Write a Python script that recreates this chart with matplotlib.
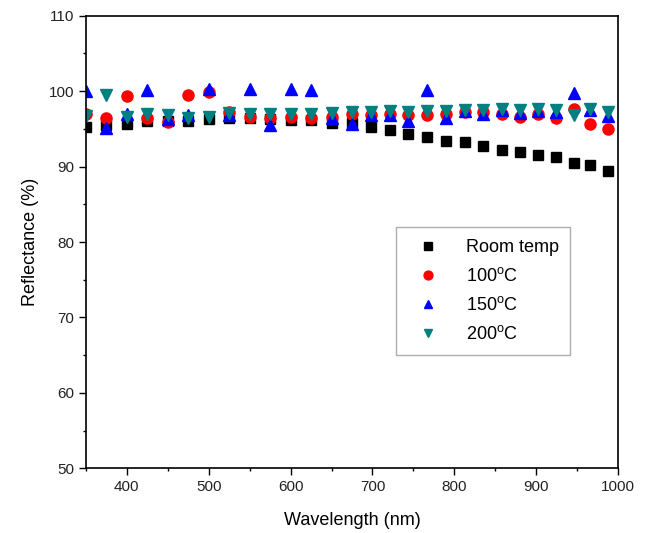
import matplotlib.pyplot as plt
from matplotlib.ticker import MultipleLocator

plt.rcParams['font.family'] = ['Liberation Sans', 'DejaVu Sans']
plt.rcParams['mathtext.fontset'] = 'custom'
plt.rcParams['mathtext.rm'] = 'Liberation Sans'

# wavelength grid (nm)
wavelength = [350, 375, 400, 425, 450, 475, 500, 525, 550, 575, 600, 625, 650, 675,
              698, 721, 744, 767, 790, 813, 835, 858, 880, 902, 924, 946, 966, 987]

# reflectance (%) for each anneal temperature
room_temp = [95.2, 95.5, 95.6, 96.0, 96.1, 96.1, 96.3, 96.5, 96.5, 96.3, 96.2, 96.2, 95.8, 95.8,
             95.2, 94.8, 94.3, 93.9, 93.4, 93.2, 92.7, 92.2, 91.9, 91.6, 91.3, 90.5, 90.2, 89.4]
t100 = [97.0, 96.4, 99.4, 96.4, 95.9, 99.5, 99.9, 97.2, 96.6, 96.5, 96.6, 96.4, 96.6, 97.0,
        96.9, 97.0, 96.9, 96.9, 97.0, 97.3, 97.2, 97.0, 96.6, 97.0, 96.5, 97.6, 95.6, 95.0]
t150 = [100.0, 95.1, 97.0, 100.2, 96.3, 96.8, 100.3, 96.8, 100.3, 95.5, 100.3, 100.2, 96.5, 95.6,
        96.8, 96.8, 96.0, 100.2, 96.4, 97.4, 97.0, 97.5, 97.1, 97.4, 97.2, 99.7, 97.5, 96.7]
t200 = [96.7, 99.5, 96.6, 97.0, 96.9, 96.5, 96.6, 97.1, 97.0, 97.0, 97.0, 97.0, 97.1, 97.2,
        97.2, 97.4, 97.3, 97.4, 97.4, 97.5, 97.5, 97.7, 97.5, 97.6, 97.5, 96.9, 97.7, 97.2]

fig = plt.figure(figsize=(6.5, 5.33), dpi=100)
ax = fig.add_axes([0.132, 0.1214, 0.819, 0.849])

ax.plot(wavelength, room_temp, 's', color='black', markersize=7, label='Room temp')
ax.plot(wavelength, t100, 'o', color='red', markersize=8, label='100$^\\mathrm{o}$C')
ax.plot(wavelength, t150, '^', color='blue', markersize=8, label='150$^\\mathrm{o}$C')
ax.plot(wavelength, t200, 'v', color='#008080', markersize=8, label='200$^\\mathrm{o}$C')

ax.set_xlim(350, 1000)
ax.set_ylim(50, 110)
ax.xaxis.set_major_locator(MultipleLocator(100))
ax.xaxis.set_minor_locator(MultipleLocator(50))
ax.yaxis.set_major_locator(MultipleLocator(10))
ax.yaxis.set_minor_locator(MultipleLocator(5))
ax.tick_params(which='both', direction='out', top=False, right=False, labelsize=11, width=1,
               labelcolor='#222222')
ax.tick_params(which='major', length=5)
ax.tick_params(which='minor', length=2.5)
for s in ax.spines.values():
    s.set_linewidth(1.2)

ax.set_xlabel('Wavelength (nm)', fontsize=13, labelpad=13)
ax.set_ylabel('Reflectance (%)', fontsize=13, labelpad=7)

leg = ax.legend(loc='lower left', bbox_to_anchor=(0.566, 0.23), fontsize=13,
                frameon=True, fancybox=False, edgecolor='#999999',
                handletextpad=1.0, borderpad=0.65, labelspacing=0.62, markerscale=0.8,
                handlelength=2.2)
leg.get_frame().set_linewidth(1)

fig.savefig('out.png', dpi=100)
